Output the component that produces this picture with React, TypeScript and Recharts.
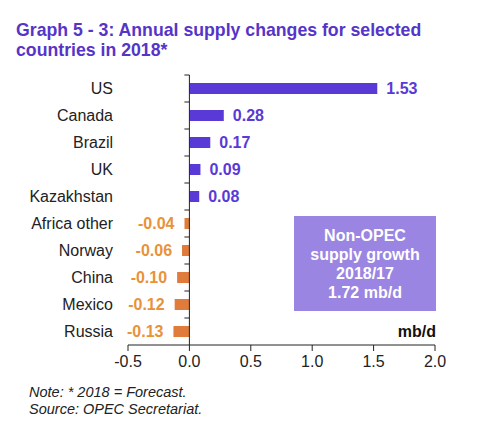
import { BarChart, Bar, XAxis, YAxis, Cell, LabelList, ReferenceLine } from 'recharts';

const countries = ['US', 'Canada', 'Brazil', 'UK', 'Kazakhstan', 'Africa other', 'Norway', 'China', 'Mexico', 'Russia'];
const changes = [1.53, 0.28, 0.17, 0.09, 0.08, -0.04, -0.06, -0.1, -0.12, -0.13];
const xTicks = [-0.5, 0, 0.5, 1, 1.5, 2];
const boxLines = ['Non-OPEC', 'supply growth', '2018/17', '1.72 mb/d'];

const data = countries.map((name, i) => ({ name, value: changes[i] }));

const W = 483;
const H = 426;
const PLOT_LEFT = 128;
const PLOT_RIGHT = 435;
const PLOT_TOP = 75;
const PLOT_BOTTOM = 345;
const DOMAIN: [number, number] = [-0.5, 2];
const ZERO_X = PLOT_LEFT + ((0 - DOMAIN[0]) / (DOMAIN[1] - DOMAIN[0])) * (PLOT_RIGHT - PLOT_LEFT);
const BAND = (PLOT_BOTTOM - PLOT_TOP) / countries.length;

const PURPLE = '#5a3ad6';
const ORANGE = '#e07b3c';
const FONT = 'Arial, "Liberation Sans", sans-serif';

const CountryTick = (props: any) => {
  const { y, payload } = props;
  return (
    <g>
      <text x={113} y={y} textAnchor="end" dominantBaseline="central" fontSize={16} fill="#222" fontFamily={FONT}>
        {payload.value}
      </text>
      <line x1={ZERO_X - 5} x2={ZERO_X} y1={y - BAND / 2} y2={y - BAND / 2} stroke="#222" />
    </g>
  );
};

const ValueLabel = (props: any) => {
  const { x, y, width, height, value } = props;
  const left = Math.min(x, x + width);
  const right = Math.max(x, x + width);
  const neg = value < 0;
  return (
    <text
      x={neg ? left - 10 : right + 9}
      y={y + height / 2}
      textAnchor={neg ? 'end' : 'start'}
      dominantBaseline="central"
      fontSize={16}
      fontWeight="bold"
      fill={neg ? '#e8923a' : PURPLE}
      fontFamily={FONT}
    >
      {value.toFixed(2)}
    </text>
  );
};

export default function App() {
  return (
    <div style={{ position: 'absolute', left: 0, top: 0, width: W, height: H, background: '#fff', fontFamily: FONT }}>
      <div style={{ position: 'absolute', left: 16, top: 21, fontSize: 17.7, lineHeight: '19.5px', fontWeight: 'bold', color: '#5535c8', whiteSpace: 'nowrap' }}>
        Graph 5 - 3: Annual supply changes for selected
        <br />
        countries in 2018*
      </div>
      <BarChart
        width={W}
        height={H}
        data={data}
        layout="vertical"
        margin={{ top: PLOT_TOP, right: W - PLOT_RIGHT, left: 0, bottom: 0 }}
        barSize={11}
      >
        <XAxis
          type="number"
          domain={DOMAIN}
          ticks={xTicks}
          tickFormatter={(v) => v.toFixed(1)}
          height={H - PLOT_BOTTOM}
          axisLine={{ stroke: '#222' }}
          tickLine={{ stroke: '#222' }}
          tickSize={6}
          tickMargin={5}
          tick={{ fontSize: 16, fill: '#222', fontFamily: FONT }}
          allowDataOverflow
        />
        <YAxis
          type="category"
          dataKey="name"
          width={PLOT_LEFT}
          axisLine={false}
          tickLine={false}
          tick={<CountryTick />}
          interval={0}
        />
        <ReferenceLine x={0} stroke="#222" />
        <Bar dataKey="value" isAnimationActive={false}>
          {data.map((d) => (
            <Cell key={d.name} fill={d.value >= 0 ? PURPLE : ORANGE} />
          ))}
          <LabelList dataKey="value" content={<ValueLabel />} />
        </Bar>
      </BarChart>
      <div
        style={{
          position: 'absolute',
          left: 294,
          top: 216,
          width: 142,
          height: 95,
          background: '#9a85e3',
          color: '#fff',
          fontWeight: 'bold',
          fontSize: 16,
          lineHeight: '19px',
          textAlign: 'center',
          display: 'flex',
          flexDirection: 'column',
          justifyContent: 'center',
        }}
      >
        {boxLines.map((l) => (
          <div key={l}>{l}</div>
        ))}
      </div>
      <div style={{ position: 'absolute', right: W - 436, top: 323, fontSize: 16, fontWeight: 'bold', color: '#111' }}>mb/d</div>
      <div style={{ position: 'absolute', left: 29, top: 384, fontSize: 14.5, lineHeight: '17px', fontStyle: 'italic', color: '#222' }}>
        Note: * 2018 = Forecast.
        <br />
        Source: OPEC Secretariat.
      </div>
    </div>
  );
}
